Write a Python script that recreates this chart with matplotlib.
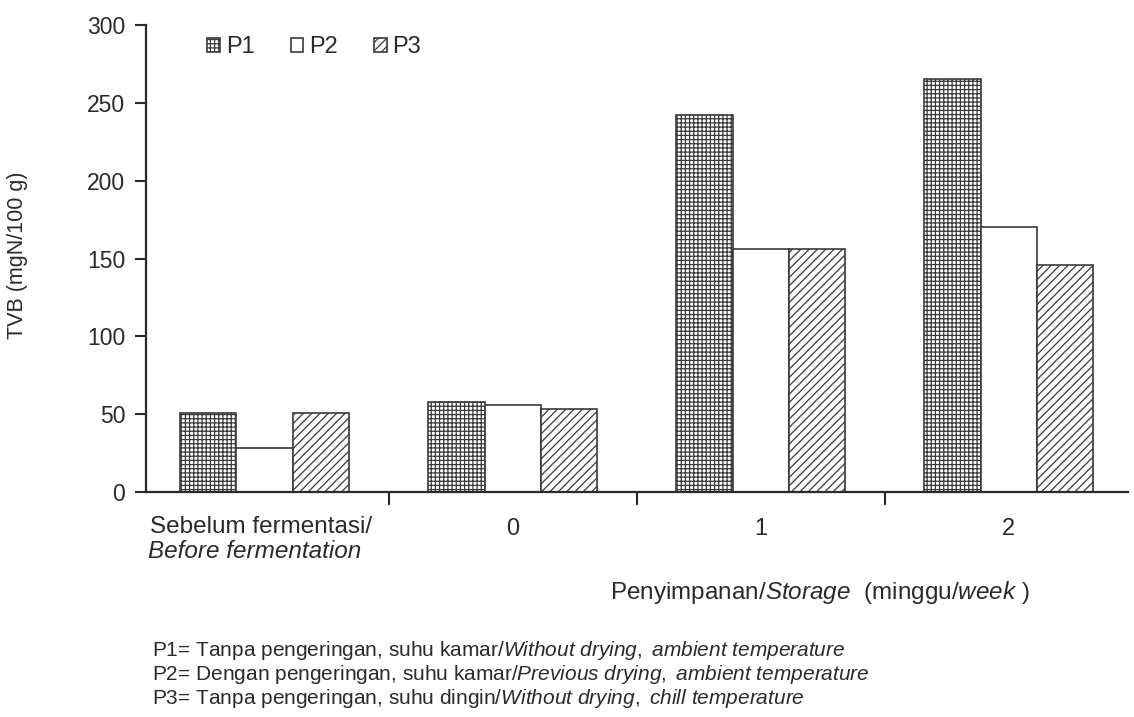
import numpy as np
import matplotlib
matplotlib.use("Agg")
import matplotlib.pyplot as plt

plt.rcParams['font.family'] = ['Liberation Sans', 'DejaVu Sans']
plt.rcParams['mathtext.fontset'] = 'custom'
plt.rcParams['mathtext.rm'] = 'Liberation Sans'
plt.rcParams['mathtext.it'] = 'Liberation Sans:italic'
plt.rcParams['hatch.linewidth'] = 0.9

# data (TVB, mgN/100 g)
groups = ["", "0", "1", "2"]
p1 = [51, 58, 242, 265]
p2 = [28, 56, 156, 170]
p3 = [51, 53, 156, 146]
series_names = ["P1", "P2", "P3"]
yticks = [0, 50, 100, 150, 200, 250, 300]

txt = "#2a2a2a"
edge = "#3a3a3a"

fig = plt.figure(figsize=(11.34, 7.17), dpi=100)
ax = fig.add_axes([146/1134, 1-492/717, (1128-146)/1134, (492-25)/717])

x = np.arange(len(groups))
w = 0.227
ax.bar(x - w, p1, w, facecolor="white", edgecolor=edge, hatch="++++", linewidth=1.2, label=series_names[0])
ax.bar(x, p2, w, facecolor="white", edgecolor=edge, linewidth=1.2, label=series_names[1])
ax.bar(x + w, p3, w, facecolor="white", edgecolor=edge, hatch="////", linewidth=1.2, label=series_names[2])

ax.set_xlim(-0.478, 3.48)
ax.set_ylim(0, 300)
ax.set_yticks(yticks)
ax.tick_params(axis='y', direction='out', length=8, width=1.5, labelsize=16.5, colors=txt, pad=7)

# ticks between groups, labels at group centres
ax.set_xticks(x[:-1] + 0.5)
ax.set_xticklabels([])
ax.tick_params(axis='x', which='major', direction='out', length=9, width=1.5, color=txt)
ax.set_xticks(x, minor=True)
ax.set_xticklabels(groups, minor=True)
ax.tick_params(axis='x', which='minor', length=0, labelsize=17, labelcolor=txt, pad=19)

for s in ["top", "right"]:
    ax.spines[s].set_visible(False)
for s in ["left", "bottom"]:
    ax.spines[s].set_linewidth(1.6)
    ax.spines[s].set_color(txt)

fig.text(150/1134, 1-527/717, "Sebelum fermentasi/", fontsize=17.5, color=txt, ha='left', va='center')
fig.text(148/1134, 1-552/717, "Before fermentation", fontsize=17.5, color=txt, style='italic', ha='left', va='center')

fig.text(18/1134, 1-255/717, "TVB (mgN/100 g)", fontsize=15.5, color=txt, rotation=90, ha='center', va='center')

fig.text(610/1134, 1-592/717, r"Penyimpanan/$\mathit{Storage}$  (minggu/$\mathit{week}$ )",
         fontsize=17.5, color=txt, ha='left', va='center')

notes = [
    r"P1= Tanpa pengeringan, suhu kamar/$\mathit{Without\ drying,\ ambient\ temperature}$",
    r"P2= Dengan pengeringan, suhu kamar/$\mathit{Previous\ drying,\ ambient\ temperature}$",
    r"P3= Tanpa pengeringan, suhu dingin/$\mathit{Without\ drying,\ chill\ temperature}$",
]
for i, n in enumerate(notes):
    fig.text(152/1134, 1-(651 + 24*i)/717, n, fontsize=15, color=txt, ha='left', va='center')

leg = ax.legend(loc='center left', bbox_to_anchor=(198/1134, 1-47/717), bbox_transform=fig.transFigure,
                ncol=3, frameon=False, fontsize=17, handlelength=0.55, handleheight=0.55,
                handletextpad=0.25, columnspacing=1.5, borderaxespad=0)
for t in leg.get_texts():
    t.set_color(txt)

fig.savefig("out.png", dpi=100)
